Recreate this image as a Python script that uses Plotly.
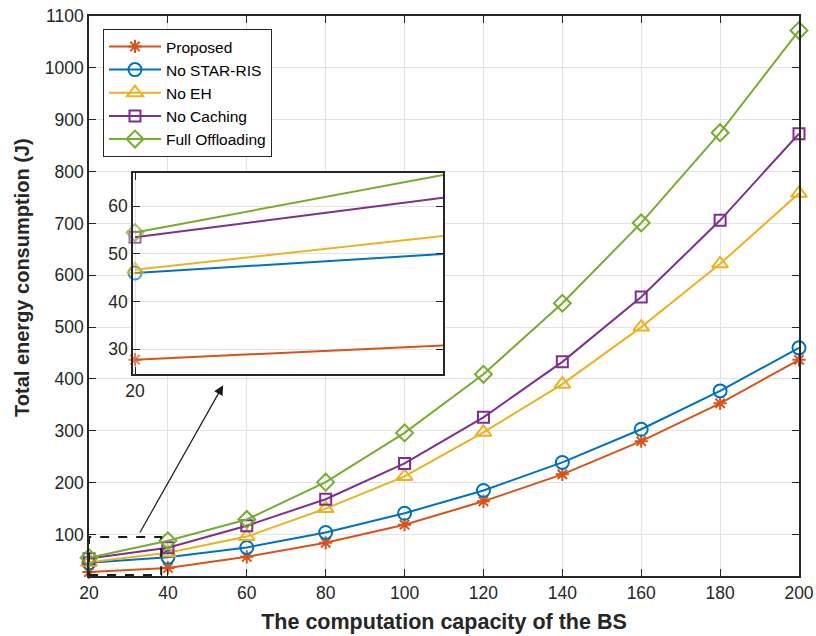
import plotly.graph_objects as go

# ---- data ----
capacity = [20, 40, 60, 80, 100, 120, 140, 160, 180, 200]
proposed = [27.5, 35.5, 57, 84, 119, 164, 216, 280, 353, 437]
no_star_ris = [45.5, 56, 75, 104, 141, 185, 239, 303, 377, 460]
no_eh = [46.5, 65, 96, 150, 212, 297, 390, 500, 622, 758]
no_caching = [53.5, 74.5, 117, 168, 237, 326, 433, 558, 706, 873]
full_offloading = [55, 88, 129, 201, 296, 409, 546, 701, 875, 1072]

inset_x = [20, 40]
inset_proposed = [27.8, 30.8]
inset_no_star_ris = [46.0, 50.0]
inset_no_eh = [46.7, 53.8]
inset_no_caching = [53.5, 61.8]
inset_full = [54.5, 66.6]

x_ticks = [20, 40, 60, 80, 100, 120, 140, 160, 180, 200]
y_ticks = [100, 200, 300, 400, 500, 600, 700, 800, 900, 1000, 1100]
inset_y_ticks = [30, 40, 50, 60]
inset_x_ticks = [20]

names = ["Proposed", "No STAR-RIS", "No EH", "No Caching", "Full Offloading"]
colors = ["#D95319", "#0072BD", "#EDB120", "#7E2F8E", "#77AC30"]
symbols = ["asterisk-open", "circle-open", "triangle-up-open", "square-open", "diamond-open"]
sizes = [11, 13, 14, 11, 13]

main_series = [proposed, no_star_ris, no_eh, no_caching, full_offloading]
inset_series = [inset_proposed, inset_no_star_ris, inset_no_eh, inset_no_caching, inset_full]

FONT = "Liberation Sans, Arial, Helvetica, sans-serif"
AX = "#262626"
GRID = "#E3E3E3"

fig = go.Figure()
for name, ys, c, s, sz in zip(names, main_series, colors, symbols, sizes):
    fig.add_trace(go.Scatter(
        x=capacity, y=ys, name=name, mode="lines+markers",
        line=dict(color=c, width=2),
        marker=dict(symbol=s, size=sz, color=c, line=dict(color=c, width=2)),
        xaxis="x", yaxis="y", cliponaxis=False,
    ))

for name, ys, c, s, sz in zip(names, inset_series, colors, symbols, sizes):
    fig.add_trace(go.Scatter(
        x=inset_x, y=ys, name=name, mode="lines+markers", showlegend=False,
        line=dict(color=c, width=2),
        marker=dict(symbol=s, size=[sz, 0], color=c, line=dict(color=c, width=2)),
        xaxis="x2", yaxis="y2", cliponaxis=False,
    ))

axis_common = dict(
    showline=True, linecolor=AX, linewidth=1.5, mirror="ticks",
    ticks="inside", ticklen=7, tickwidth=1.3, tickcolor=AX,
    showgrid=True, gridcolor=GRID, gridwidth=1.3, zeroline=False,
    tickfont=dict(family=FONT, size=17.5, color=AX), automargin=False,
    ticklabeloverflow="allow",
)

fig.update_layout(
    width=816, height=636,
    margin=dict(l=89, r=17, t=16, b=60),
    paper_bgcolor="white", plot_bgcolor="white",
    font=dict(family=FONT, color=AX),
    xaxis=dict(
        range=[20, 200], tickvals=x_ticks, domain=[0, 1],
        title=dict(text="<b>The computation capacity of the BS</b>",
                   font=dict(family=FONT, size=21.5, color=AX), standoff=12),
        **axis_common,
    ),
    yaxis=dict(
        range=[20, 1100], tickvals=y_ticks, domain=[0, 1],
        **axis_common,
    ),
    xaxis2=dict(
        range=[19.87, 40], tickvals=inset_x_ticks, domain=[0.062, 0.4986],
        anchor="y2", **axis_common,
    ),
    yaxis2=dict(
        range=[24.8, 67.0], tickvals=inset_y_ticks, domain=[0.3607, 0.7196],
        anchor="x2", **axis_common,
    ),
    legend=dict(
        x=0.0197, y=0.977, xanchor="left", yanchor="top",
        bgcolor="white", bordercolor=AX, borderwidth=1,
        font=dict(family=FONT, size=15.5, color="black"),
        tracegroupgap=0, itemwidth=52,
    ),
    shapes=[dict(
        type="rect", xref="x", yref="y", x0=20, x1=38.3, y0=22, y1=95,
        line=dict(color="#1a1a1a", width=2, dash="dash"), layer="above",
    )],
    annotations=[
        dict(
            xref="x", yref="y", axref="x", ayref="y",
            x=54, y=388, ax=32.7, ay=101,
            showarrow=True, arrowhead=2, arrowsize=1.6, arrowwidth=1.2,
            arrowcolor="#1a1a1a", text="",
        ),
        dict(
            xref="paper", yref="paper", x=-0.0944, y=0.534,
            xanchor="center", yanchor="middle", textangle=-90, showarrow=False,
            text="<b>Total energy consumption (J)</b>",
            font=dict(family=FONT, size=20, color=AX),
        ),
    ],
)

# remove the page's default 8px body margin so the figure fills the window
fig.write_html(
    "out.html",
    config={"displayModeBar": False},
    post_script="document.body.style.margin='0';document.body.style.overflow='hidden';",
)
